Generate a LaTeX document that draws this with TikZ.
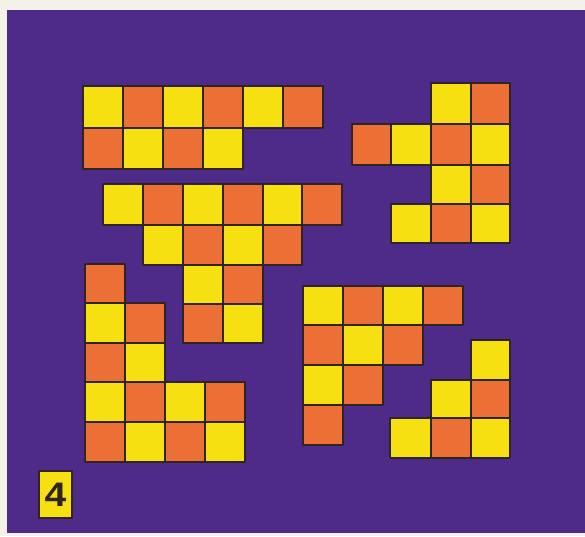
\documentclass[tikz,border=0pt]{standalone}
\usepackage{fontspec}
\setmainfont{Liberation Sans}
\definecolor{bgpaper}{HTML}{F3F1EA}
\definecolor{bgpurple}{HTML}{4E2B88}
\definecolor{cyel}{HTML}{F7E012}
\definecolor{corg}{HTML}{EC6F35}
\definecolor{cline}{HTML}{2E2520}
\tikzset{
  ycell/.style={fill=cyel,draw=cline,line width=1.6pt,line join=round},
  ocell/.style={fill=corg,draw=cline,line width=1.6pt,line join=round},
  labelbox/.style={fill=cyel,draw=cline,line width=2.2pt,minimum width=33pt,minimum height=47pt,inner sep=0pt,
    font=\bfseries\fontsize{34}{34}\selectfont,text=cline}
}
\newcommand\Yc[4]{\filldraw[ycell] (#1,#2) rectangle (#3,#4);}
\newcommand\Oc[4]{\filldraw[ocell] (#1,#2) rectangle (#3,#4);}
\begin{document}
\begin{tikzpicture}[x=1pt,y=-1pt]
\useasboundingbox (0,0) rectangle (585,536);
\fill[bgpaper] (0,0) rectangle (585,536);
\fill[bgpurple] (7,10) rectangle (585,533);
% Piece 1
\Yc{83}{86}{123}{128}\Oc{123}{86}{163}{128}\Yc{163}{86}{203}{128}\Oc{203}{86}{243}{128}\Yc{243}{86}{283}{128}\Oc{283}{86}{323}{128}
\Oc{83}{128}{123}{169}\Yc{123}{128}{163}{169}\Oc{163}{128}{203}{169}\Yc{203}{128}{243}{169}
% Piece 2
\Yc{431}{83}{471}{124}\Oc{471}{83}{510}{124}
\Oc{352}{124}{391}{165}\Yc{391}{124}{431}{165}\Oc{431}{124}{471}{165}\Yc{471}{124}{510}{165}
\Yc{431}{165}{471}{204}\Oc{471}{165}{510}{204}
\Yc{391}{204}{431}{243}\Oc{431}{204}{471}{243}\Yc{471}{204}{510}{243}
% Piece 3
\Yc{103}{184}{143}{225}\Oc{143}{184}{183}{225}\Yc{183}{184}{223}{225}\Oc{223}{184}{263}{225}\Yc{263}{184}{302}{225}\Oc{302}{184}{342}{225}
\Yc{143}{225}{183}{265}\Oc{183}{225}{223}{265}\Yc{223}{225}{263}{265}\Oc{263}{225}{302}{265}
\Yc{183}{265}{223}{304}\Oc{223}{265}{263}{304}
\Oc{183}{304}{223}{343}\Yc{223}{304}{263}{343}
% Piece 4
\Oc{85}{264}{125}{303}
\Yc{85}{303}{125}{343}\Oc{125}{303}{165}{343}
\Oc{85}{343}{125}{382}\Yc{125}{343}{165}{382}
\Yc{85}{382}{125}{422}\Oc{125}{382}{165}{422}\Yc{165}{382}{205}{422}\Oc{205}{382}{245}{422}
\Oc{85}{422}{125}{462}\Yc{125}{422}{165}{462}\Oc{165}{422}{205}{462}\Yc{205}{422}{245}{462}
% Piece 5
\Yc{303}{286}{343}{325}\Oc{343}{286}{383}{325}\Yc{383}{286}{423}{325}\Oc{423}{286}{463}{325}
\Oc{303}{325}{343}{365}\Yc{343}{325}{383}{365}\Oc{383}{325}{423}{365}
\Yc{303}{365}{343}{405}\Oc{343}{365}{383}{405}
\Oc{303}{405}{343}{445}
% Piece 6
\Yc{471}{340}{510}{380}
\Yc{431}{380}{471}{418}\Oc{471}{380}{510}{418}
\Yc{390}{418}{431}{458}\Oc{431}{418}{471}{458}\Yc{471}{418}{510}{458}
% Label
\node[labelbox] (lbl) at (55.5,494.5) {\scalebox{1.15}[1]{4}};
\end{tikzpicture}
\end{document}
